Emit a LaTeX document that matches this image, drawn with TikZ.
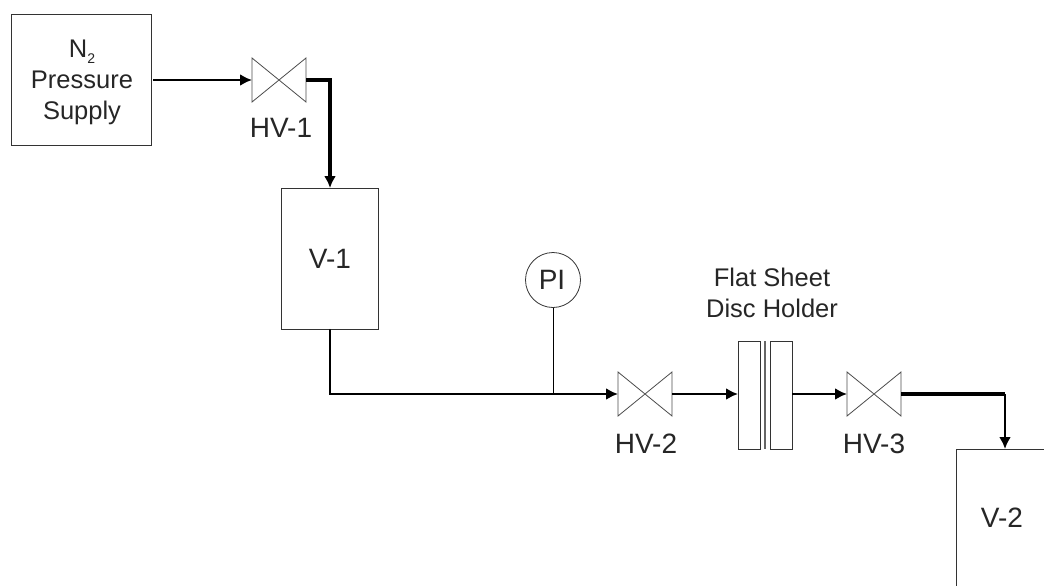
\documentclass[tikz,border=0pt]{standalone}
\usepackage{fontspec}
\setmainfont{Liberation Sans}
\usetikzlibrary{arrows.meta}
\begin{document}
\begin{tikzpicture}[x=1pt,y=-1pt,
  box/.style={draw=black!80,line width=1pt,fill=white,inner sep=0pt},
  lbl/.style={inner sep=0pt,font=\fontsize{28}{32}\selectfont,text=black!85,align=center},
  lblsmall/.style={inner sep=0pt,font=\fontsize{25.5}{31}\selectfont,text=black!85,align=center},
  pipe/.style={draw=black,line width=2.3pt},
  thick pipe/.style={draw=black,line width=3.6pt},
  mid pipe/.style={draw=black,line width=2.6pt},
  flow/.style={-{Latex[length=12pt,width=12pt]}},
  valveline/.style={draw=black!70,line width=0.8pt}]
\useasboundingbox (0,0) rectangle (1044,586);
\node[box,minimum width=140pt,minimum height=130pt] (sup) at (81,80) {};
\node[lblsmall] (suplbl) at (82,82) {N\raisebox{-0.5ex}{\fontsize{14}{14}\selectfont 2}\\Pressure\\Supply};
\node[box,minimum width=97pt,minimum height=141pt] (v1) at (330,259) {};
\node[lbl] at (330,259) (v1l) {V-1};
\node[draw=black!80,line width=0.8pt,circle,minimum size=55pt,inner sep=0pt] (pi) at (553,280) {};
\node[lbl] at (552,280) (pil) {PI};
\node[box,minimum width=22pt,minimum height=108pt] (d1) at (749,395) {};
\node[box,minimum width=22pt,minimum height=108pt] (d2) at (781,395) {};
\draw[draw=black!60,line width=1.4pt] (765,341) -- (765,449);
\coordinate (d1w) at (738,394);
\coordinate (d2e) at (792,394);
\node[box,minimum width=100pt,minimum height=160pt,anchor=north west] (v2) at (956,449) {};
\node[lbl] at (1002,518) (v2l) {V-2};
\node[lblsmall] at (772,293) (fs) {Flat Sheet\\Disc Holder};
\node[lbl] at (281,128) (h1) {HV-1};
\node[lbl] at (646,444) (h2) {HV-2};
\node[lbl] at (874,444) (h3) {HV-3};
% valves
\foreach \n/\x/\y in {a/279/80,b/645/394,c/874/394}{
  \coordinate (\n w) at (\x-27,\y);
  \coordinate (\n e) at (\x+27,\y);
  \path[valveline] (\x-27,\y-22) -- (\x+27,\y+22) -- (\x+27,\y-22) -- (\x-27,\y+22) -- cycle;
}
\coordinate (j1) at (330,80);
\coordinate (j2) at (330,394);
\coordinate (j3) at (553,394);
\coordinate (j4) at (1005,394);
\coordinate (s0) at (153,80);
\draw[pipe,flow] (s0) -- (aw);
\draw[thick pipe,flow] (ae) -- (j1) -- (v1.north);
\draw[pipe,line cap=round] (v1.south) -- (j2) -- (j3);
\draw[line width=1pt] (pi.south) -- (j3);
\draw[pipe,flow] (j3) -- (bw);
\draw[pipe,flow] (be) -- (d1w);
\draw[pipe,flow] (d2e) -- (cw);
\draw[thick pipe] (ce) -- (j4);
\draw[mid pipe,flow] (j4) -- (j4 |- v2.north);
\end{tikzpicture}
\end{document}
